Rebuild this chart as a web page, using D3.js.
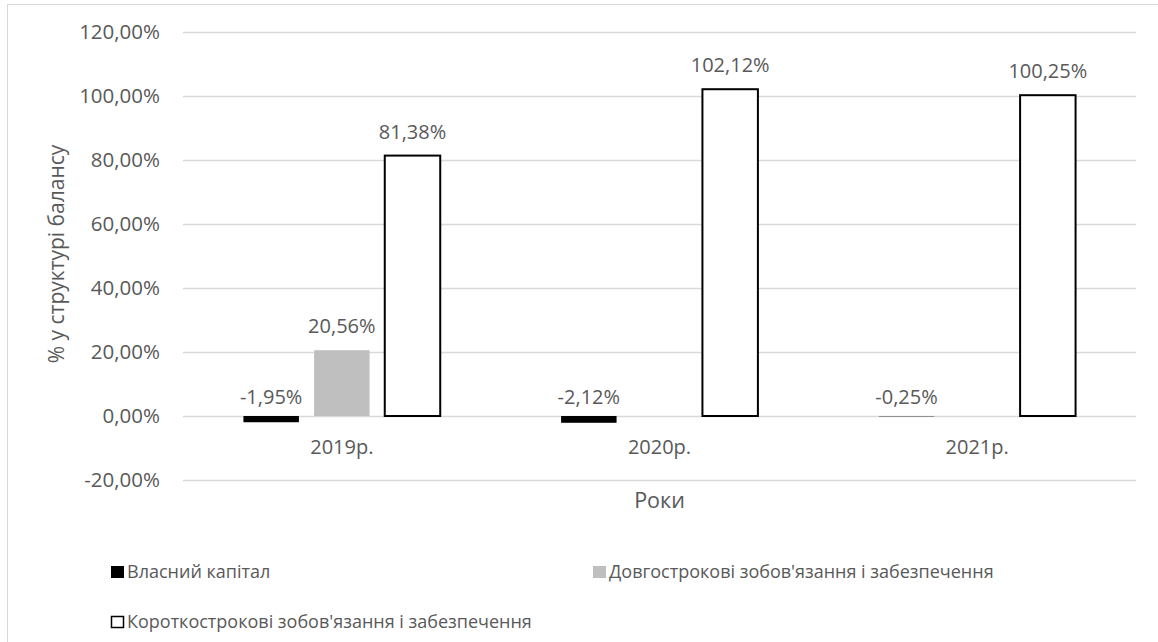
<!DOCTYPE html>
<html>
<head>
<meta charset="utf-8">
<script src="https://cdn.jsdelivr.net/npm/d3@7"></script>
<style>
  body { margin: 0; background: #fff; }
  svg text { font-family: "Open Sans", "Noto Sans", sans-serif; fill: #595959; }
</style>
</head>
<body>
<svg id="chart" width="1158" height="642"></svg>
<script>
// data
let years = ['2019р.', '2020р.', '2021р.'];
let seriesNames = ['Власний капітал', "Довгострокові зобов'язання і забезпечення", "Короткострокові зобов'язання і забезпечення"];
let equity = [-1.95, -2.12, -0.25];
let longTerm = [20.56, 0, 0];
let shortTerm = [81.38, 102.12, 100.25];
let yTicks = [-20, 0, 20, 40, 60, 80, 100, 120];
let seriesColors = ['#000000', '#bfbfbf', '#ffffff'];
let seriesStroke = ['none', 'none', '#000000'];

function ready(fn) {
  if (document.readyState != 'loading') { fn(); }
  else { document.addEventListener('DOMContentLoaded', fn); }
}
ready(main);

function main() {
  let svg = d3.select('#chart');
  let fmt = v => v.toFixed(2).replace('.', ',') + '%';

  // outer frame (right/bottom edge fall outside the picture)
  svg.append('rect')
    .attr('x', 7.5).attr('y', 4.5).attr('width', 1200).attr('height', 700)
    .attr('fill', 'none').attr('stroke', '#d9d9d9');

  let left = 183, right = 1136;
  let y = d3.scaleLinear().domain([-20, 120]).range([480, 32]);
  let x0 = d3.scaleBand().domain(years).range([left, right]);
  let x1 = d3.scaleBand().domain(d3.range(3)).range([-106, 106])
    .paddingInner(0.215).paddingOuter(0.1075);

  // grid
  svg.append('g').selectAll('line').data(yTicks).join('line')
    .attr('x1', left).attr('x2', right)
    .attr('y1', d => y(d) + 0.5).attr('y2', d => y(d) + 0.5)
    .attr('stroke', '#d9d9d9').attr('stroke-width', 1.3);

  svg.append('g').selectAll('text').data(yTicks).join('text')
    .attr('x', 160).attr('y', d => y(d)).attr('dy', '0.35em')
    .attr('text-anchor', 'end').attr('font-size', 20.5)
    .text(d => fmt(d));

  // bars
  let all = [equity, longTerm, shortTerm];
  let rows = [];
  years.forEach((yr, i) => {
    all.forEach((arr, s) => {
      if (s === 1 && arr[i] === 0) return;
      rows.push({ yr: yr, s: s, v: arr[i] });
    });
  });

  let cx = d => x0(d.yr) + x0.bandwidth() / 2 + x1(d.s);

  svg.append('g').selectAll('rect').data(rows).join('rect')
    .attr('x', d => cx(d))
    .attr('width', x1.bandwidth())
    .attr('y', d => Math.min(y(d.v), y(0)))
    .attr('height', d => Math.max(Math.abs(y(d.v) - y(0)), 0.8))
    .attr('fill', d => d.s === 0 && Math.abs(d.v) < 0.5 ? '#808080' : seriesColors[d.s])
    .attr('stroke', d => seriesStroke[d.s])
    .attr('stroke-width', 2);

  // data labels
  svg.append('g').selectAll('text').data(rows).join('text')
    .attr('x', d => cx(d) + x1.bandwidth() / 2)
    .attr('y', d => d.v >= 0 ? y(d.v) - 17 : y(0) - 12)
    .attr('text-anchor', 'middle').attr('font-size', 20)
    .text(d => fmt(d.v));

  // category labels
  svg.append('g').selectAll('text').data(years).join('text')
    .attr('x', d => x0(d) + x0.bandwidth() / 2).attr('y', 447).attr('dy', '0.35em')
    .attr('text-anchor', 'middle').attr('font-size', 20)
    .text(d => d);

  // axis titles
  svg.append('text')
    .attr('x', (left + right) / 2).attr('y', 500).attr('dy', '0.35em')
    .attr('text-anchor', 'middle').attr('font-size', 21.5)
    .text('Роки');
  svg.append('text')
    .attr('transform', 'translate(57,254) rotate(-90)').attr('dy', '0.35em')
    .attr('text-anchor', 'middle').attr('font-size', 21)
    .text('% у структурі балансу');

  // legend
  let legendPos = [[111, 572], [593, 572], [111, 622]];
  let lg = svg.append('g').selectAll('g').data(seriesNames).join('g')
    .attr('transform', (d, i) => 'translate(' + legendPos[i][0] + ',' + legendPos[i][1] + ')');
  lg.append('rect')
    .attr('x', (d, i) => i === 2 ? 0.5 : 0).attr('y', (d, i) => i === 2 ? -5.5 : -6)
    .attr('width', (d, i) => i === 2 ? 12 : 13).attr('height', (d, i) => i === 2 ? 11 : 12)
    .attr('fill', (d, i) => seriesColors[i])
    .attr('stroke', (d, i) => i === 2 ? '#000' : 'none').attr('stroke-width', 1.5);
  lg.append('text')
    .attr('x', 16).attr('dy', '0.35em').attr('font-size', 18)
    .text(d => d);
}
</script>
</body>
</html>
